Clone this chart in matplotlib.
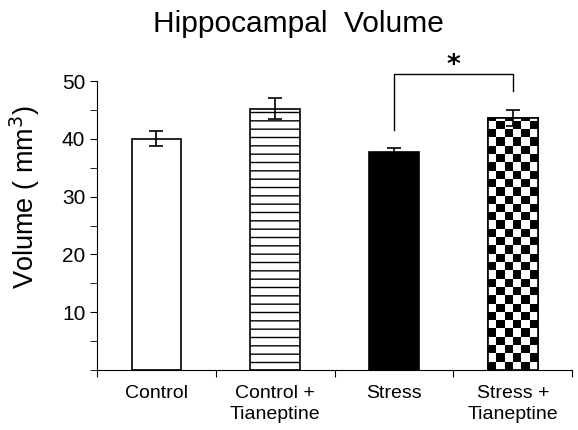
import numpy as np
import matplotlib
matplotlib.use('Agg')
import matplotlib.pyplot as plt
from matplotlib.ticker import MultipleLocator

plt.rcParams['font.family'] = ['Liberation Sans', 'DejaVu Sans']
plt.rcParams['hatch.linewidth'] = 1.0

groups = ['Control', 'Control +\nTianeptine', 'Stress', 'Stress +\nTianeptine']
volume = [40.0, 45.2, 37.7, 43.6]
sem = [1.3, 1.8, 0.7, 1.4]

fig = plt.figure(figsize=(5.78, 4.30), dpi=100)
ax = fig.add_axes([0.168, 0.1395, 0.822, 0.672])

x = np.arange(len(groups))
bars = ax.bar(x, volume, width=0.42, color='white', edgecolor='black', linewidth=1.2, zorder=2)
bars[1].set_hatch('--')
bars[2].set_facecolor('black')

# checkerboard fill for the last bar
b = bars[3]
ncol = 6
sq_h = (b.get_width() / ncol) * (118.7 / 5.78)  # keep squares roughly square
nrow = int(np.ceil(b.get_height() / sq_h))
board = (np.add.outer(np.arange(nrow), np.arange(ncol)) % 2).astype(float)
im = ax.imshow(board, cmap='gray', extent=(b.get_x(), b.get_x() + b.get_width(), 0, nrow * sq_h),
               origin='lower', aspect='auto', interpolation='nearest', zorder=2)
im.set_clip_path(b)
ax.bar(x[3], volume[3], width=0.42, fill=False, edgecolor='black', linewidth=1.2, zorder=3)

ax.errorbar(x, volume, yerr=sem, fmt='none', ecolor='black', elinewidth=1.2, capsize=5, capthick=1.2, zorder=4)

# significance bracket
top = 51.2
ax.plot([x[2], x[2], x[3], x[3]], [41.5, top, top, 48.3], color='black', lw=1.0, clip_on=False)
ax.text((x[2] + x[3]) / 2, 52.6, '*', ha='center', va='center', fontsize=19, fontweight='bold',
        family='DejaVu Sans')

ax.set_xlim(-0.5, 3.5)
ax.set_ylim(0, 50)
ax.yaxis.set_minor_locator(MultipleLocator(5))
ax.set_yticks([10, 20, 30, 40, 50])
ax.set_xticks([-0.5, 0.5, 1.5, 2.5, 3.5])
ax.set_xticklabels([])
ax.set_xticks(x, minor=True)
ax.set_xticklabels(groups, minor=True, fontsize=14, linespacing=1.25)
ax.tick_params(axis='x', which='minor', length=0, pad=11)
ax.tick_params(axis='x', which='major', length=5, direction='out')
ax.tick_params(axis='y', which='both', direction='out', length=5, labelsize=15)

for s in ['top', 'right']:
    ax.spines[s].set_visible(False)

ax.set_ylabel('Volume ( mm$^3$)', fontsize=19.5)
ax.yaxis.set_label_coords(-0.115, 0.6)
fig.text(0.516, 0.945, 'Hippocampal  Volume', ha='center', va='center', fontsize=21.5)

fig.savefig('out.png', dpi=100)
